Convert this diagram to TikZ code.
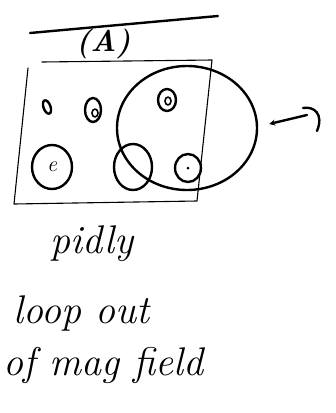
\documentclass[tikz,border=0pt]{standalone}
\usepackage{tikz}
\usetikzlibrary{arrows.meta,positioning,shapes.geometric}
\definecolor{Ink}{HTML}{000000}
\tikzset{
  pen/.style={draw=Ink,line width=2.4pt,line cap=round,line join=round},
  thinpen/.style={draw=Ink,line width=1.1pt,line cap=round,line join=round},
  blob/.style={ellipse,pen,inner sep=0pt},
  scrawl/.style={font=\fontsize{40}{44}\selectfont\itshape,text=Ink,
    inner sep=0pt,anchor=base west}
}

\begin{document}
\begin{tikzpicture}[x=1pt,y=-1pt]
  \useasboundingbox (0,0) rectangle (336,413);
  % heading
  \draw[pen] (30,33) -- (218,16);
  \node[scrawl,font=\fontsize{30}{32}\selectfont\bfseries\itshape] (part) at (76,51) {(A)};
  % the frame
  \draw[thinpen] (42,62) -- (212,60) -- (197,201) -- (14,204) -- (28,68);
  % big loop
  \node[blob,minimum width=140pt,minimum height=124pt] (whole) at (187,128) {};
  % small loops, top row
  \node[blob,minimum width=7pt,minimum height=14pt,rotate=20] (dotA) at (47,107) {};
  \node[blob,minimum width=16pt,minimum height=24pt] (ringA) at (93,110) {};
  \node[blob,line width=1.6pt,minimum width=6pt,minimum height=8pt] (coreA) at (95,113) {};
  \node[blob,minimum width=18pt,minimum height=22pt] (ringB) at (167,100) {};
  \node[blob,line width=1.6pt,minimum width=6pt,minimum height=8pt] (coreB) at (168,101) {};
  % small loops, bottom row
  \node[blob,minimum width=40pt,minimum height=44pt] (cellA) at (52,167) {};
  \node[font=\fontsize{22}{24}\selectfont\itshape] at (cellA) {e};
  \node[blob,minimum width=38pt,minimum height=46pt] (cellB) at (133,167) {};
  \node[blob,minimum width=26pt,minimum height=28pt] (cellC) at (188,168) {};
  \fill[Ink] (cellC) circle (1.5pt);
  % arrow
  \coordinate (tip) at ([xshift=11pt,yshift=4pt]whole.east);
  \coordinate (tail) at (307,115);
  \draw[pen,-{Stealth[length=6pt,width=6pt]}] (tail) -- (tip);
  \draw[pen] (303,108) .. controls (314,106) and (324,114) .. (317,131);
  % words
  \node[scrawl] (w1) at (50,253) {pidly};
  \node[scrawl] (w2) at (13,323) {loop out};
  \node[scrawl] (w3) at (3,375) {of mag field};
\end{tikzpicture}
\end{document}
